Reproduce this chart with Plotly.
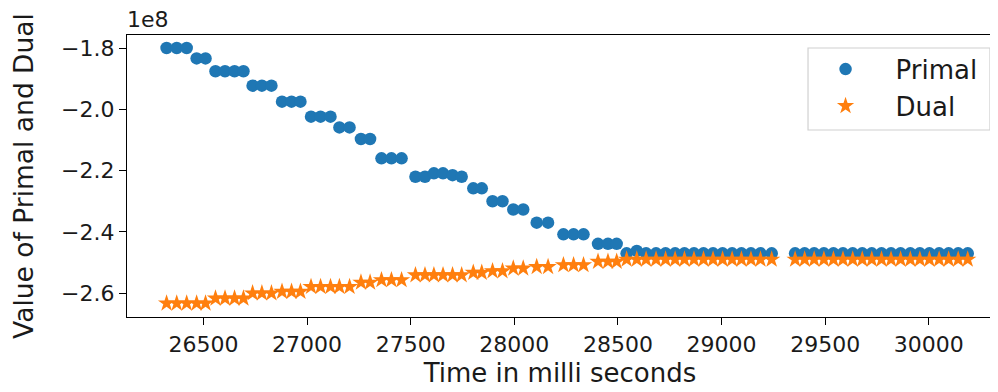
import plotly.graph_objects as go

# time stamps (ms) shared by both series
time_ms = [26322, 26371, 26419, 26467, 26510, 26558, 26604, 26650, 26693, 26737,
           26782, 26828, 26879, 26925, 26968, 27019, 27065, 27113, 27156, 27205,
           27260, 27304, 27359, 27407, 27456, 27523, 27569, 27612, 27656, 27702,
           27746, 27802, 27843, 27895, 27943, 27995, 28043, 28108, 28163, 28237,
           28286, 28334, 28404, 28452, 28494,
           28542, 28591, 28636, 28684, 28730, 28776, 28821, 28867, 28913, 28959,
           29005, 29051, 29096, 29142, 29188, 29242,
           29355, 29401, 29447, 29494, 29540, 29586, 29633, 29679, 29725, 29772,
           29818, 29864, 29911, 29957, 30003, 30050, 30096, 30142, 30188]

# values in units of 1e8
primal = [-1.800, -1.800, -1.800, -1.834, -1.834, -1.876, -1.876, -1.876, -1.876, -1.923,
          -1.923, -1.923, -1.975, -1.975, -1.975, -2.024, -2.024, -2.024, -2.059, -2.059,
          -2.097, -2.097, -2.160, -2.160, -2.160, -2.220, -2.220, -2.209, -2.209, -2.215,
          -2.220, -2.258, -2.258, -2.300, -2.300, -2.327, -2.327, -2.370, -2.370, -2.408,
          -2.408, -2.408, -2.439, -2.439, -2.439,
          -2.470, -2.462, -2.470, -2.470, -2.470, -2.470, -2.470, -2.470, -2.470, -2.470,
          -2.470, -2.470, -2.470, -2.470, -2.470, -2.470,
          -2.470, -2.470, -2.470, -2.470, -2.470, -2.470, -2.470, -2.470, -2.470, -2.470,
          -2.470, -2.470, -2.470, -2.470, -2.470, -2.470, -2.470, -2.470, -2.470]

dual = [-2.633, -2.633, -2.633, -2.633, -2.633, -2.617, -2.617, -2.617, -2.617, -2.600,
        -2.600, -2.600, -2.595, -2.595, -2.595, -2.579, -2.579, -2.579, -2.579, -2.579,
        -2.565, -2.565, -2.557, -2.557, -2.557, -2.541, -2.541, -2.541, -2.541, -2.541,
        -2.541, -2.533, -2.533, -2.528, -2.528, -2.519, -2.519, -2.514, -2.514, -2.508,
        -2.508, -2.508, -2.497, -2.497, -2.497,
        -2.490, -2.490, -2.490, -2.490, -2.490, -2.490, -2.490, -2.490, -2.490, -2.490,
        -2.490, -2.490, -2.490, -2.490, -2.490, -2.490,
        -2.490, -2.490, -2.490, -2.490, -2.490, -2.490, -2.490, -2.490, -2.490, -2.490,
        -2.490, -2.490, -2.490, -2.490, -2.490, -2.490, -2.490, -2.490, -2.490]

x_ticks = [26500, 27000, 27500, 28000, 28500, 29000, 29500, 30000]
y_ticks = [-1.8, -2.0, -2.2, -2.4, -2.6]

FONT = "DejaVu Sans"
TXT = "#1a1a1a"
fig = go.Figure()
fig.add_trace(go.Scatter(x=time_ms, y=primal, mode="markers", name="Primal",
                         marker=dict(symbol="circle", size=12.5, color="#1f77b4")))
fig.add_trace(go.Scatter(x=time_ms, y=dual, mode="markers", name="Dual",
                         marker=dict(symbol="star", size=13, color="#ff7f0e")))

axis_common = dict(showline=True, linecolor="black", linewidth=1.2, mirror=True,
                   ticks="outside", ticklen=7, tickcolor="black", showgrid=False,
                   zeroline=False, automargin=False,
                   tickfont=dict(family=FONT, size=22, color=TXT))
fig.update_xaxes(range=[26131, 30310], tickvals=x_ticks, tickformat="d",
                 title=dict(text="Time in milli seconds", font=dict(family=FONT, size=26, color=TXT), standoff=8),
                 **axis_common)
fig.update_yaxes(range=[-2.6777, -1.7576], tickvals=y_ticks, tickformat=".1f",
                 title=dict(text="Value of Primal and Dual", font=dict(family=FONT, size=26.5, color=TXT), standoff=30),
                 **axis_common)

fig.add_annotation(text="1e8", xref="paper", yref="paper", x=0, y=1, xanchor="left",
                   yanchor="bottom", showarrow=False, yshift=1, xshift=-2,
                   font=dict(family=FONT, size=22, color=TXT))

# legend frame
fig.add_shape(type="rect", xref="paper", yref="paper", x0=0.7864, x1=0.9965, y0=0.6631, y1=0.9539,
              line=dict(color="#d0d0d0", width=1.2), fillcolor="rgba(255,255,255,0.8)", layer="below")

# page body has an 8px margin: size the figure so the plot area lands where the reference has it
fig.update_layout(
    width=990, height=384, plot_bgcolor="white", paper_bgcolor="white",
    margin=dict(l=119, r=5, t=27, b=75),
    font=dict(family=FONT, size=22, color=TXT),
    legend=dict(x=0.772, y=0.962, xanchor="left", yanchor="top",
                borderwidth=0, bgcolor="rgba(0,0,0,0)", tracegroupgap=0,
                font=dict(family=FONT, size=26, color=TXT), itemwidth=90),
    showlegend=True,
)

fig.write_html("out.html")
